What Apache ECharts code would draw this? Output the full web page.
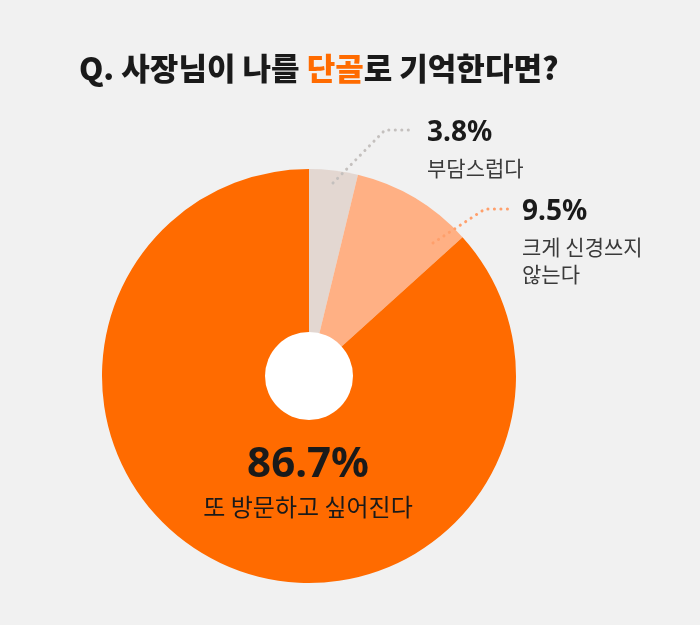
<!DOCTYPE html>
<html><head><meta charset="utf-8">
<script src="https://cdn.jsdelivr.net/npm/echarts@6/dist/echarts.min.js"></script>
<style>html,body{margin:0;padding:0;background:#f1f1f1}#c{width:700px;height:625px}</style>
</head><body><div id="c"></div>
<script>
const categories = ['부담스럽다', '크게 신경쓰지\n않는다', '또 방문하고 싶어진다'];
const values = [3.8, 9.5, 86.7];
const sliceColors = ['#e3d7d1', '#ffb084', '#ff6b00'];
const lineColors = ['#c4c0be', '#ff9f6b', null];
const titleParts = ['Q. 사장님이 나를 ', '단골', '로 기억한다면?'];

const CX = 309, CY = 376, R = 207, HOLE = 44;
// label placement relative to pie centre (layout only)
const labelSpots = [
  { x: 118, y: -265, align: 'left', pts: [[24, -193], [76, -246], [101, -246]] },
  { x: 213, y: -186, align: 'left', pts: [[124, -133], [176, -167], [201, -167]] },
  { x: -1, y: 63, align: 'center', pts: null }
];

const KR = "'Noto Sans CJK KR', 'Noto Sans', sans-serif";
const NUM = "'Noto Sans', 'Noto Sans CJK KR', sans-serif";

const chart = echarts.init(document.getElementById('c'), null, { renderer: 'canvas' });

const sliceData = values.map((v, i) => ({
  value: v, name: categories[i], itemStyle: { color: sliceColors[i] }
}));

const labelData = values.map((v, i) => {
  const big = i === 2;
  return {
    value: v,
    name: categories[i],
    itemStyle: { color: 'rgba(0,0,0,0)' },
    label: {
      show: true,
      position: big ? 'inside' : 'outside',
      formatter: function () {
        const numTag = big ? 'big' : 'v';
        const nameTag = big ? 'sub' : 'n';
        const lines = categories[i].split('\n').map(s => '{' + nameTag + '|' + s + '}');
        return '{' + numTag + '|' + v.toFixed(1) + '%}\n' + lines.join('\n');
      }
    },
    labelLine: big ? { show: false } : {
      show: true,
      lineStyle: { color: lineColors[i], width: 3, type: [0.1, 6.4], cap: 'round' }
    }
  };
});

chart.setOption({
  backgroundColor: '#f1f1f1',
  animation: false,
  title: {
    left: 74,
    top: 41,
    text: '{a|' + titleParts[0] + '}{b|' + titleParts[1] + '}{a|' + titleParts[2] + '}',
    textStyle: {
      rich: {
        a: { fontFamily: KR, fontSize: 31, fontWeight: 900, color: '#1a1a1a', lineHeight: 44 },
        b: { fontFamily: KR, fontSize: 31, fontWeight: 900, color: '#ff6b00', lineHeight: 44 }
      }
    }
  },
  series: [
    {
      type: 'pie',
      z: 2,
      center: [CX, CY],
      radius: [0, R],
      startAngle: 90,
      clockwise: true,
      silent: true,
      emphasis: { disabled: true },
      label: { show: false },
      labelLine: { show: false },
      data: sliceData
    },
    {
      type: 'pie',
      z: 5,
      center: [CX, CY],
      radius: [0, R],
      startAngle: 90,
      clockwise: true,
      silent: true,
      emphasis: { disabled: true },
      avoidLabelOverlap: false,
      data: labelData,
      label: {
        rich: {
          v: { fontFamily: NUM, fontSize: 28, fontWeight: 'bold', color: '#1a1a1a', lineHeight: 44 },
          n: { fontFamily: KR, fontSize: 21, color: '#3a3a3a', lineHeight: 27 },
          big: { fontFamily: NUM, fontSize: 42, fontWeight: 'bold', color: '#1a1a1a', lineHeight: 52, align: 'center' },
          sub: { fontFamily: KR, fontSize: 24, color: '#1a1a1a', lineHeight: 32, align: 'center' }
        }
      },
      labelLayout: function (p) {
        const s = labelSpots[p.dataIndex];
        const out = { x: CX + s.x, y: CY + s.y, align: s.align, verticalAlign: 'top' };
        if (s.pts) out.labelLinePoints = s.pts.map(q => [CX + q[0], CY + q[1]]);
        return out;
      }
    },
    {
      type: 'pie',
      z: 3,
      center: [CX, CY],
      radius: [0, HOLE],
      silent: true,
      emphasis: { disabled: true },
      label: { show: false },
      labelLine: { show: false },
      data: [{ value: 1, name: 'hole', itemStyle: { color: '#ffffff' } }]
    }
  ]
});
</script>
</body></html>
